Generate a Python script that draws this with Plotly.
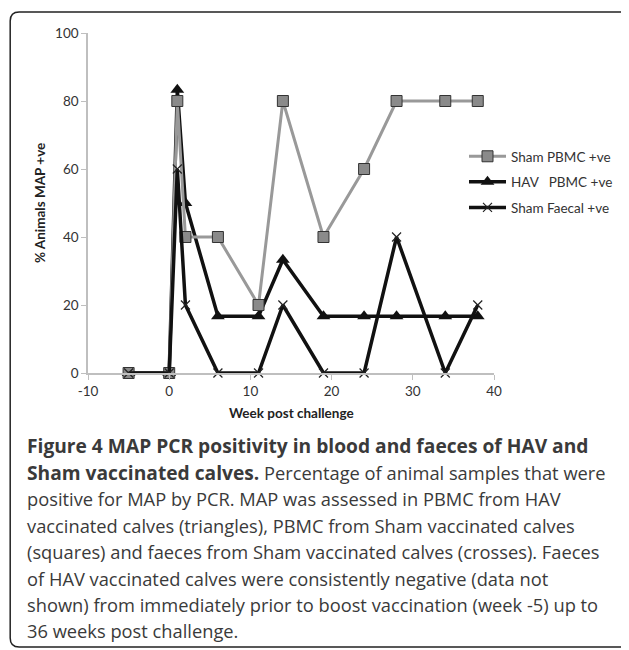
import plotly.graph_objects as go

weeks = [-5, 0, 1, 2, 6, 11, 14, 19, 24, 28, 34, 38]
sham_pbmc = [0, 0, 80, 40, 40, 20, 80, 40, 60, 80, 80, 80]
hav_pbmc = [0, 0, 83.3, 50, 16.7, 16.7, 33.3, 16.7, 16.7, 16.7, 16.7, 16.7]
sham_faecal = [0, 0, 60, 20, 0, 0, 20, 0, 0, 40, 0, 20]

x_ticks = [-10, 0, 10, 20, 30, 40]
x_tick_labels = ["-10", "0", "10", "20", "30", "40"]
y_ticks = [0, 20, 40, 60, 80, 100]

caption_lines = [
    "<b>Figure 4 MAP PCR positivity in blood and faeces of HAV and</b>",
    "<b>Sham vaccinated calves.</b> Percentage of animal samples that were",
    "positive for MAP by PCR. MAP was assessed in PBMC from HAV",
    "vaccinated calves (triangles), PBMC from Sham vaccinated calves",
    "(squares) and faeces from Sham vaccinated calves (crosses). Faeces",
    "of HAV vaccinated calves were consistently negative (data not",
    "shown) from immediately prior to boost vaccination (week -5) up to",
    "36 weeks post challenge.",
]

# page offset (body margin) compensation
OFF = 8
W, H = 629 - OFF, 650 - OFF
L, T = 88 - OFF, 33 - OFF
R = W - (495 - OFF)
B = H - (373 - OFF)
PW, PH = W - L - R, H - T - B


def px(x):
    return (x - OFF - L) / PW


def py(y):
    return (H - B - (y - OFF)) / PH


FONT = "Open Sans"
TICKFONT = dict(family="Lato", size=13.5, color="#333333")

fig = go.Figure()

fig.add_trace(go.Scatter(
    x=weeks, y=hav_pbmc, name="HAV\u00a0\u00a0\u00a0PBMC +ve", mode="lines+markers",
    line=dict(color="#111111", width=3.5),
    marker=dict(symbol="triangle-up", size=12, color="#111111"),
    cliponaxis=False, legendrank=2, legendgroup="b",
))
fig.add_trace(go.Scatter(
    x=weeks, y=sham_pbmc, name="Sham PBMC +ve", mode="lines+markers",
    line=dict(color="#999999", width=3),
    marker=dict(symbol="square", size=11, color="#8a8a8a", line=dict(color="#333333", width=1)),
    cliponaxis=False, legendrank=1, legendgroup="a",
))
fig.add_trace(go.Scatter(
    x=weeks, y=sham_faecal, name="Sham Faecal +ve", mode="lines+markers",
    line=dict(color="#111111", width=3.5),
    marker=dict(symbol="x-thin-open", size=9, color="#222222", line=dict(color="#222222", width=1.2)),
    cliponaxis=False, legendrank=3, legendgroup="c",
))

shapes = []
x0, x1, y0, y1, r = px(10), px(631), py(12), py(647), 9
rx, ry = r / PW, r / PH
path = (f"M {x0} {y1 + ry} L {x0} {y0 - ry} Q {x0} {y0} {x0 + rx} {y0} "
        f"L {x1 - rx} {y0} Q {x1} {y0} {x1} {y0 - ry} L {x1} {y1 + ry} "
        f"Q {x1} {y1} {x1 - rx} {y1} L {x0 + rx} {y1} Q {x0} {y1} {x0} {y1 + ry}")
shapes.append(dict(type="path", xref="paper", yref="paper", path=path,
                   line=dict(color="#222222", width=1.5)))

annotations = []
for i, line in enumerate(caption_lines):
    bold_only = line.startswith("<b>") and line.endswith("</b>")
    if i == 1:
        line = line.replace("<b>Sham vaccinated calves.</b>",
                            "<b><span style='font-size:19.2px'>Sham vaccinated calves.</span></b>")
    annotations.append(dict(
        xref="paper", yref="paper", x=px(25), y=py(446 + i * 26.4),
        xanchor="left", yanchor="middle", showarrow=False, text=line,
        font=dict(family=FONT, size=19.2 if bold_only else 18.3, color="#3a3a3a"),
    ))
annotations.append(dict(
    xref="paper", yref="paper", x=0.5, y=py(413), xanchor="center", yanchor="middle",
    showarrow=False, text="<b>Week post challenge</b>",
    font=dict(family="Lato", size=13.5, color="#222222"),
))
annotations.append(dict(
    xref="paper", yref="paper", x=px(40), y=0.5, xanchor="center", yanchor="middle",
    showarrow=False, text="<b>% Animals MAP +ve</b>", textangle=-90,
    font=dict(family="Lato", size=13.5, color="#222222"),
))

fig.update_layout(
    width=W, height=H,
    margin=dict(l=L, r=R, t=T, b=B),
    paper_bgcolor="white", plot_bgcolor="white",
    showlegend=True,
    legend=dict(x=px(464), y=py(141), xanchor="left", yanchor="top",
                font=dict(family="Lato", size=13.5, color="#333333"),
                bgcolor="rgba(0,0,0,0)", tracegroupgap=5, itemwidth=37),
    shapes=shapes, annotations=annotations,
)
fig.update_xaxes(range=[-10, 40], tickvals=x_ticks, ticktext=x_tick_labels,
                 showgrid=False, zeroline=False,
                 showline=True, linecolor="#bfbfbf", linewidth=1.5,
                 ticks="outside", ticklen=5, tickcolor="#bfbfbf", tickfont=TICKFONT)
fig.update_yaxes(range=[0, 100], tickvals=y_ticks, showgrid=False, zeroline=False,
                 showline=True, linecolor="#bfbfbf", linewidth=1.5,
                 ticks="outside", ticklen=5, tickcolor="#bfbfbf", tickfont=TICKFONT)

fig.write_html("out.html")
